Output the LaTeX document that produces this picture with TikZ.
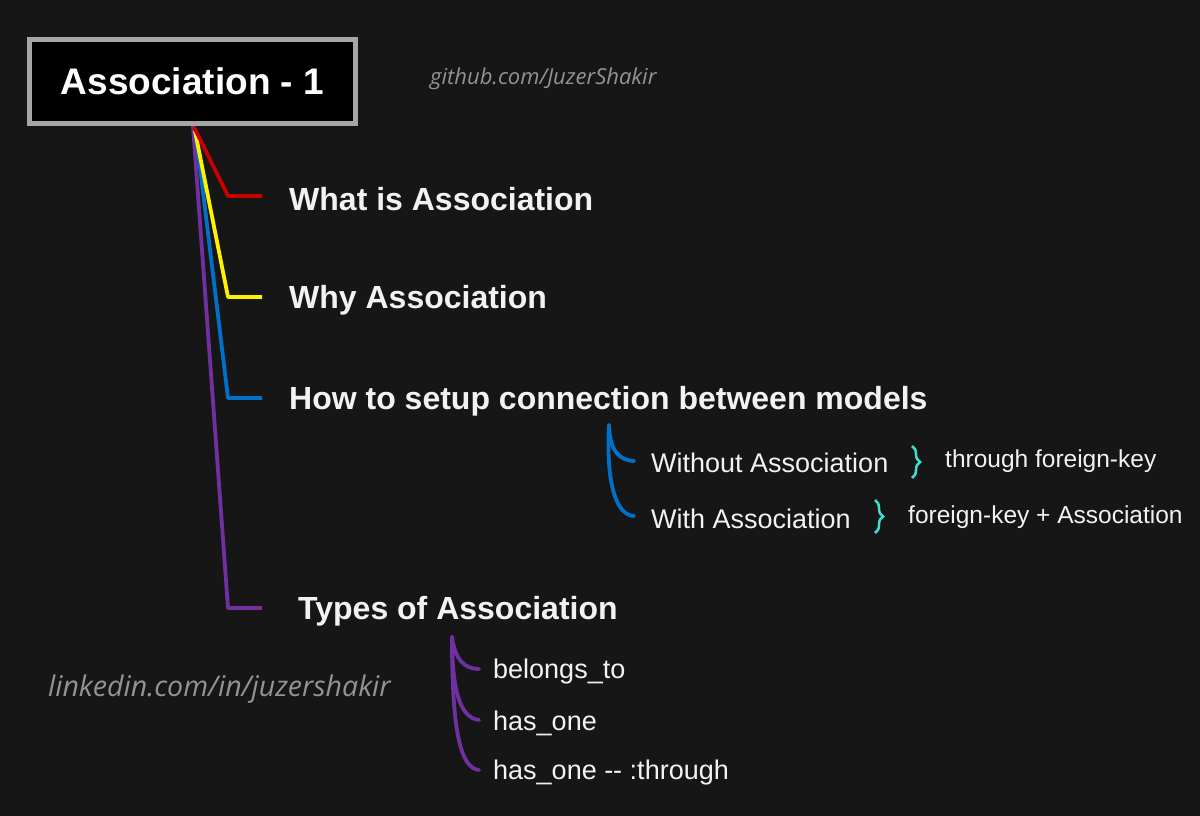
\documentclass[tikz,border=0pt]{standalone}
\usepackage{fontspec}
\setmainfont{Liberation Sans}
\newfontfamily\openf{Open Sans}
\usetikzlibrary{decorations.pathreplacing,calc}
\definecolor{bg}{HTML}{161616}
\definecolor{bred}{HTML}{C80000}
\definecolor{byel}{HTML}{FFF200}
\definecolor{bblue}{HTML}{0070C8}
\definecolor{bpurp}{HTML}{7030A0}
\definecolor{bcyan}{HTML}{40E0D0}
\definecolor{wtxt}{HTML}{F2F2F2}
\begin{document}
\begin{tikzpicture}[x=1pt,y=-1pt,
  main/.style={anchor=west,text=wtxt,font=\fontsize{32}{36}\selectfont\bfseries,inner sep=0},
  sub/.style={anchor=west,text=wtxt,font=\fontsize{27}{30}\selectfont,inner sep=0},
  note/.style={anchor=west,text=wtxt,font=\fontsize{24.5}{27}\selectfont,inner sep=0},
  link/.style={anchor=west,text=gray!85,inner sep=0},
  br/.style={line width=3.8pt,line join=round}]
\fill[bg] (0,0) rectangle (1200,816);
\useasboundingbox (0,0) rectangle (1200,816);
\node[draw=gray!70,line width=5pt,fill=black,minimum width=326,minimum height=84,inner sep=0,
  text=white,font=\fontsize{37}{40}\selectfont\bfseries] (title) at (192.5,81.5) {Association - 1};
\node[link,font=\openf\itshape\fontsize{22}{26}\selectfont] (gh) at (430,79) {github.com/JuzerShakir};
\node[link,font=\openf\itshape\fontsize{28.5}{32}\selectfont] (li) at (48,689) {linkedin.com/in/juzershakir};

\node[main] (n1) at (289,199) {What is Association};
\node[main] (n2) at (289,300) {Why Association};
\node[main] (n3) at (289,401) {How to setup connection between models};
\node[main] (n4) at (298,611) {Types of Association};

\coordinate (o) at (193,126);
\draw[br,bpurp] (o) -- (228,608) -- (262,608);
\draw[br,bblue] (196,134) -- (228,398) -- (262,398);
\draw[br,byel] (195,131) -- (228,297) -- (262,297);
\draw[br,bred] (194,127) -- (228,196) -- (262,196);

\node[sub] (w1) at (651,463) {Without Association};
\node[sub] (w2) at (651,519) {With Association};
\node[note] (t1) at (945,461) {through foreign-key};
\node[note] (t2) at (908,517) {foreign-key + Association};
\coordinate (bo) at (609,425);
\draw[br,bblue,line cap=round] (bo) .. controls (610,450) and (618,460) .. (634,461);
\draw[br,bblue,line cap=round] (bo) .. controls (606,480) and (615,515) .. (634,516);
\draw[bcyan,line width=2.5pt,decorate,decoration={brace,amplitude=8pt}] (912,446) -- (912,478);
\draw[bcyan,line width=2.5pt,decorate,decoration={brace,amplitude=8pt}] (875,500) -- (875,533);

\node[sub] (s1) at (493,672) {belongs\_to};
\node[sub] (s2) at (493,723) {has\_one};
\node[sub] (s3) at (493,773) {has\_one -{}- :through};
\coordinate (po) at (452,637);
\draw[br,bpurp,line cap=round] (po) .. controls (455,660) and (465,669) .. (479,669);
\draw[br,bpurp,line cap=round] (po) .. controls (452,690) and (460,718) .. (479,720);
\draw[br,bpurp,line cap=round] (po) .. controls (452,730) and (460,768) .. (479,770);
\end{tikzpicture}
\end{document}
